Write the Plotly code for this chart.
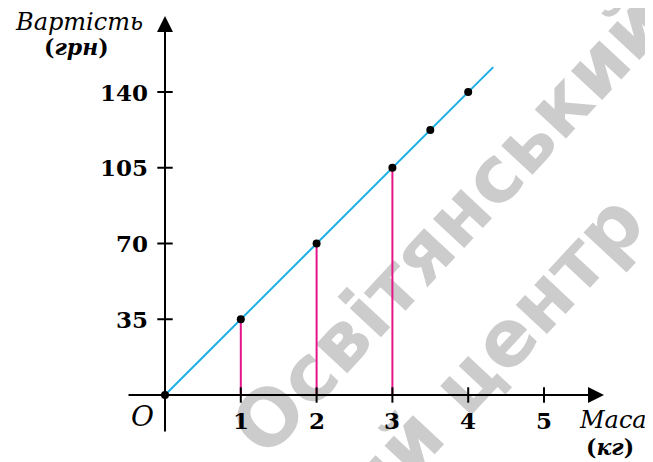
import math
import plotly.graph_objects as go

# ---- data ----
mass = [0, 1, 2, 3, 3.5, 4]            # кг
cost = [0, 35, 70, 105, 122.5, 140]    # грн
stem_x = [1, 2, 3]
stem_y = [35, 70, 105]
line_x = [0, 4.33]
line_y = [0, 151.5]
x_ticks = [1, 2, 3, 4, 5]
y_ticks = [35, 70, 105, 140]

OFF = 8                    # page body margin of the rendered html
W, H = 653 - OFF, 462 - OFF
X0, Y0 = 165, 395          # target pixel position of origin (screen coords)
SX, SY = 75.8, 75.75 / 35  # pixels per unit

xr = [-(X0 - OFF) / SX, (W - (X0 - OFF)) / SX]
yr = [-(H - (Y0 - OFF)) / SY, (Y0 - OFF) / SY]

def px2data(px, py):
    return (px - X0) / SX, (Y0 - py) / SY

def px2paper(px, py):
    return (px - OFF) / W, 1 - (py - OFF) / H

SERIF = "DejaVu Serif"
BLUE = "#19aee6"
MAG = "#e6148a"

fig = go.Figure()

# stems
for x, y in zip(stem_x, stem_y):
    fig.add_trace(go.Scatter(x=[x, x], y=[0, y], mode="lines",
                             line=dict(color=MAG, width=2), hoverinfo="skip"))
# line
fig.add_trace(go.Scatter(x=line_x, y=line_y, mode="lines",
                         line=dict(color=BLUE, width=2), hoverinfo="skip"))

# tick crosses
fig.add_trace(go.Scatter(x=x_ticks, y=[0] * len(x_ticks), mode="markers",
                         marker=dict(symbol="line-ns", size=11,
                                     line=dict(color="black", width=2))))
fig.add_trace(go.Scatter(x=[0] * len(y_ticks), y=y_ticks, mode="markers",
                         marker=dict(symbol="line-ew", size=11,
                                     line=dict(color="black", width=2))))

# points
fig.add_trace(go.Scatter(x=mass, y=cost, mode="markers",
                         marker=dict(color="black", size=8)))

annotations = []

# x tick labels (below the axis)
for v in x_ticks:
    annotations.append(dict(x=v, y=px2paper(0, 420)[1], xref="x", yref="paper",
                            xanchor="center", yanchor="middle", showarrow=False,
                            text=str(v),
                            font=dict(family=SERIF, size=23, color="black", weight="bold")))

# axis arrows
xa0, _ = px2data(127, 0)
xa1, _ = px2data(604, 0)
_, ya0 = px2data(0, 433)
_, ya1 = px2data(0, 16)
annotations += [
    dict(x=xa1, y=0, ax=xa0, ay=0, xref="x", yref="y", axref="x", ayref="y",
         showarrow=True, arrowhead=2, arrowsize=1.6, arrowwidth=2, arrowcolor="black", text=""),
    dict(x=0, y=ya1, ax=0, ay=ya0, xref="x", yref="y", axref="x", ayref="y",
         showarrow=True, arrowhead=2, arrowsize=1.6, arrowwidth=2, arrowcolor="black", text=""),
]

# y tick labels
for v in y_ticks:
    annotations.append(dict(x=px2paper(150, 0)[0], y=v, xref="paper", yref="y",
                            xanchor="right", yanchor="middle", showarrow=False,
                            text=str(v),
                            font=dict(family=SERIF, size=23, color="black", weight="bold")))

def txt(px, py, text, size, style="italic", weight="normal", xanchor="center"):
    x, y = px2paper(px, py)
    annotations.append(dict(x=x, y=y, xref="paper", yref="paper", xanchor=xanchor,
                            yanchor="middle", showarrow=False, text=text,
                            font=dict(family=SERIF, size=size, color="black",
                                      style=style, weight=weight)))

txt(79, 22, "Вартість", 24)
txt(76, 47, "(<i>грн</i>)", 22, style="normal", weight="bold")
txt(613, 420, "Маса", 24)
txt(610, 447, "(<i>кг</i>)", 22, style="normal", weight="bold")
txt(142, 416, "O", 28)

# watermark (behind the chart)
ang = math.radians(47)
dx, dy = math.cos(ang), -math.sin(ang)
shapes = []
for (cx, cy, label) in [(445, 220, "Освітянський"), (487, 350, "ий центр")]:
    a = px2paper(cx - 100 * dx, cy - 100 * dy)
    b = px2paper(cx + 100 * dx, cy + 100 * dy)
    shapes.append(dict(type="line", xref="paper", yref="paper",
                       x0=a[0], y0=a[1], x1=b[0], y1=b[1], layer="below",
                       line=dict(width=0, color="rgba(0,0,0,0)"),
                       label=dict(text=label, textposition="middle",
                                  xanchor="center", yanchor="middle", padding=0,
                                  font=dict(family="DejaVu Sans", size=78,
                                            color="#cccccc", weight="bold"))))

fig.update_layout(
    width=W, height=H,
    margin=dict(l=0, r=0, t=0, b=0, pad=0, autoexpand=False),
    paper_bgcolor="white", plot_bgcolor="white",
    showlegend=False,
    xaxis=dict(range=xr, visible=False, fixedrange=True),
    yaxis=dict(range=yr, visible=False, fixedrange=True),
    annotations=annotations,
    shapes=shapes,
)

fig.write_html("out.html")
